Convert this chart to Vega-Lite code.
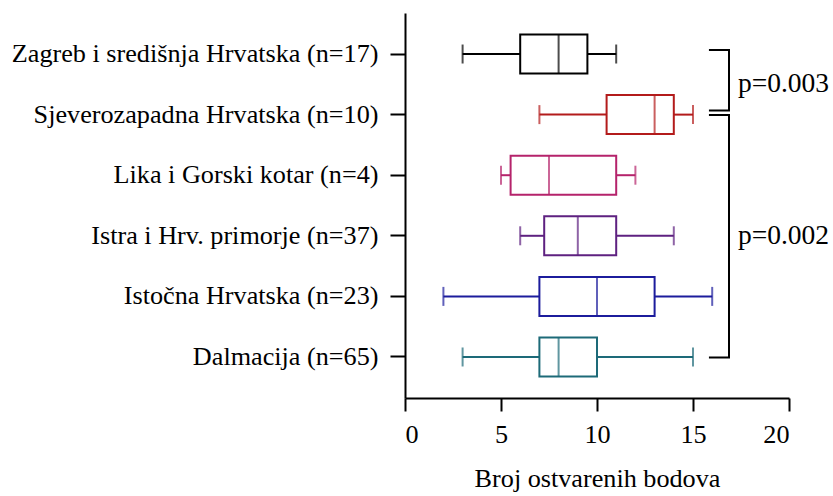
{
  "$schema": "https://vega.github.io/schema/vega-lite/v6.json",
  "width": 384,
  "height": 385,
  "autosize": {"type": "none"},
  "padding": {"left": 405, "top": 13, "right": 44, "bottom": 98},
  "background": "white",
  "config": {
    "view": {"stroke": null},
    "font": "Liberation Serif",
    "axis": {"labelFont": "Liberation Serif", "titleFont": "Liberation Serif", "labelColor": "black", "titleColor": "black", "domainColor": "black", "tickColor": "black", "domainWidth": 2, "tickWidth": 2, "grid": false, "labelFontSize": 26.2, "titleFontSize": 26.2, "titleFontWeight": "normal"}
  },
  "data": {"values": [
    {"label": "Zagreb i središnja Hrvatska (n=17)", "min": 3, "q1": 6, "median": 8, "q3": 9.5, "max": 11},
    {"label": "Sjeverozapadna Hrvatska (n=10)", "min": 7, "q1": 10.5, "median": 13, "q3": 14, "max": 15},
    {"label": "Lika i Gorski kotar (n=4)", "min": 5, "q1": 5.5, "median": 7.5, "q3": 11, "max": 12},
    {"label": "Istra i Hrv. primorje (n=37)", "min": 6, "q1": 7.25, "median": 9, "q3": 11, "max": 14},
    {"label": "Istočna Hrvatska (n=23)", "min": 2, "q1": 7, "median": 10, "q3": 13, "max": 16},
    {"label": "Dalmacija (n=65)", "min": 3, "q1": 7, "median": 8, "q3": 10, "max": 15}
  ]},
  "encoding": {
    "y": {"field": "label", "type": "nominal",
      "scale": {"domain": ["Zagreb i središnja Hrvatska (n=17)", "Sjeverozapadna Hrvatska (n=10)", "Lika i Gorski kotar (n=4)", "Istra i Hrv. primorje (n=37)", "Istočna Hrvatska (n=23)", "Dalmacija (n=65)"], "paddingInner": 0, "paddingOuter": 0.177},
      "axis": {"title": null, "tickSize": 15, "labelPadding": 12, "labelLimit": 500}},
    "color": {"field": "label", "type": "nominal", "legend": null,
      "scale": {"domain": ["Zagreb i središnja Hrvatska (n=17)", "Sjeverozapadna Hrvatska (n=10)", "Lika i Gorski kotar (n=4)", "Istra i Hrv. primorje (n=37)", "Istočna Hrvatska (n=23)", "Dalmacija (n=65)"],
        "range": ["#000000", "#b31b1b", "#b5236b", "#5e2180", "#1c1c9c", "#1d6a78"]}}
  },
  "layer": [
    {"mark": {"type": "rule", "strokeWidth": 2},
     "encoding": {"x": {"field": "min", "type": "quantitative", "scale": {"domain": [0, 20], "nice": false, "zero": false},
        "axis": {"values": [0, 5, 10, 15, 20], "tickSize": 13, "labelPadding": 10, "title": "Broj ostvarenih bodova", "titlePadding": 18}},
       "x2": {"field": "q1"}}},
    {"mark": {"type": "rule", "strokeWidth": 2},
     "encoding": {"x": {"field": "q3", "type": "quantitative"}, "x2": {"field": "max"}}},
    {"mark": {"type": "bar", "height": 39, "fill": "white", "strokeWidth": 2},
     "encoding": {"x": {"field": "q1", "type": "quantitative"}, "x2": {"field": "q3"}, "stroke": {"field": "label", "type": "nominal", "legend": null,
       "scale": {"domain": ["Zagreb i središnja Hrvatska (n=17)", "Sjeverozapadna Hrvatska (n=10)", "Lika i Gorski kotar (n=4)", "Istra i Hrv. primorje (n=37)", "Istočna Hrvatska (n=23)", "Dalmacija (n=65)"],
        "range": ["#000000", "#b31b1b", "#b5236b", "#5e2180", "#1c1c9c", "#1d6a78"]}}, "color": {"value": "white"}}},
    {"mark": {"type": "tick", "size": 39, "thickness": 2},
     "encoding": {"x": {"field": "median", "type": "quantitative"}}},
    {"mark": {"type": "tick", "size": 19, "thickness": 2},
     "encoding": {"x": {"field": "min", "type": "quantitative"}}},
    {"mark": {"type": "tick", "size": 19, "thickness": 2},
     "encoding": {"x": {"field": "max", "type": "quantitative"}}},
    {"data": {"values": [
      {"x": 15.83, "label": "Zagreb i središnja Hrvatska (n=17)", "o": 1},
      {"x": 16.875, "label": "Zagreb i središnja Hrvatska (n=17)", "o": 2},
      {"x": 16.875, "label": "Sjeverozapadna Hrvatska (n=10)", "o": 3},
      {"x": 15.83, "label": "Sjeverozapadna Hrvatska (n=10)", "o": 4}
    ]},
     "mark": {"type": "line", "strokeWidth": 2, "color": "black", "yOffset": -4},
     "encoding": {"x": {"field": "x", "type": "quantitative"}, "order": {"field": "o"}, "color": {"value": "black"}}},
    {"data": {"values": [
      {"x": 15.83, "label": "Sjeverozapadna Hrvatska (n=10)", "o": 1},
      {"x": 16.875, "label": "Sjeverozapadna Hrvatska (n=10)", "o": 2},
      {"x": 16.875, "label": "Dalmacija (n=65)", "o": 3},
      {"x": 15.83, "label": "Dalmacija (n=65)", "o": 4}
    ]},
     "mark": {"type": "line", "strokeWidth": 2, "color": "black", "yOffset": 0.5},
     "encoding": {"x": {"field": "x", "type": "quantitative"}, "order": {"field": "o"}, "color": {"value": "black"}}},
    {"data": {"values": [{"x": 17.34, "label": "Sjeverozapadna Hrvatska (n=10)", "t": "p=0.003"}]},
     "mark": {"type": "text", "align": "left", "baseline": "middle", "fontSize": 27.5, "font": "Liberation Serif", "dy": -31},
     "encoding": {"x": {"field": "x", "type": "quantitative"}, "text": {"field": "t"}, "color": {"value": "black"}}},
    {"data": {"values": [{"x": 17.34, "label": "Istra i Hrv. primorje (n=37)", "t": "p=0.002"}]},
     "mark": {"type": "text", "align": "left", "baseline": "middle", "fontSize": 27.5, "font": "Liberation Serif"},
     "encoding": {"x": {"field": "x", "type": "quantitative"}, "text": {"field": "t"}, "color": {"value": "black"}}}
  ]
}
